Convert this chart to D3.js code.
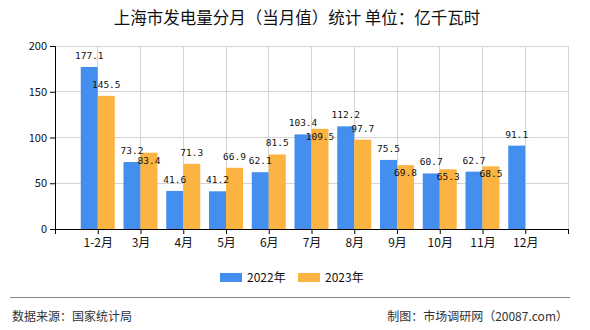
<!DOCTYPE html>
<html><head><meta charset="utf-8">
<script src="https://cdn.jsdelivr.net/npm/d3@7"></script>
<style>
body{margin:0;background:#fff;}
svg{display:block;}
</style></head>
<body>
<svg id="c" width="590" height="330"></svg>
<script>
(function(){
const categories = ["1-2月","3月","4月","5月","6月","7月","8月","9月","10月","11月","12月"];
const series2022 = [177.1,73.2,41.6,41.2,62.1,103.4,112.2,75.5,60.7,62.7,91.1];
const series2023 = [145.5,83.4,71.3,66.9,81.5,109.5,97.7,69.8,65.3,68.5,null];
const seriesNames = ["2022年","2023年"];
const yTicks = [0,50,100,150,200];
const title = "上海市发电量分月（当月值）统计 单位：亿千瓦时";
const sourceText = "数据来源：国家统计局";
const creditText = "制图：市场调研网（20087.com）";

const colors = ["#448ef0","#fbb441"];
const svg = d3.select("#c");
const mLeft = 55, mRight = 568, mTop = 46, mBottom = 229;
const font = "'Noto Sans CJK SC','Noto Sans',sans-serif";

const slots = ["__s", ...categories, "__e"];
const x = d3.scalePoint().domain(slots).range([mLeft, mRight]);
const y = d3.scaleLinear().domain([0,200]).range([mBottom, mTop]);
const barW = 17;

// title
svg.append("text").attr("x",297).attr("y",24).attr("text-anchor","middle")
  .attr("font-family",font).attr("font-size",16.5).attr("fill","#111").text(title);

// grid
const g = svg.append("g");
g.selectAll(".hg").data(yTicks.slice(1)).join("line")
  .attr("x1",mLeft).attr("x2",mRight).attr("y1",d=>y(d)).attr("y2",d=>y(d))
  .attr("stroke","#d4d4d4").attr("stroke-width",1).attr("shape-rendering","crispEdges");
g.selectAll(".vg").data(slots.slice(1)).join("line")
  .attr("x1",d=>x(d)).attr("x2",d=>x(d)).attr("y1",mTop).attr("y2",mBottom)
  .attr("stroke","#d4d4d4").attr("stroke-width",1).attr("shape-rendering","crispEdges");

// bars
const data = categories.map((c,i)=>({c, v:[series2022[i], series2023[i]]}));
[0,1].forEach(s=>{
  const vals = data.filter(d=>d.v[s]!=null);
  svg.append("g").selectAll("rect").data(vals).join("rect")
    .attr("x",d=> s===0 ? x(d.c)-barW : x(d.c))
    .attr("width",barW)
    .attr("y",d=>y(d.v[s]))
    .attr("height",d=>y(0)-y(d.v[s]))
    .attr("fill",colors[s]);
});

// axes
const yAxis = d3.axisLeft(y).tickValues(yTicks).tickSize(5).tickPadding(3);
const ya = svg.append("g").attr("transform",`translate(${mLeft},0)`).call(yAxis);
ya.selectAll("text").attr("font-family",font).attr("font-size",11).attr("fill","#111");
ya.selectAll("line,path").attr("stroke","#000");

const xAxis = d3.axisBottom(x).tickSize(5).tickSizeOuter(0).tickPadding(4)
  .tickFormat(d=> d.startsWith("__") ? "" : d);
const xa = svg.append("g").attr("transform",`translate(0,${mBottom})`).call(xAxis);
xa.selectAll("text").attr("font-family",font).attr("font-size",12).attr("fill","#111");
xa.selectAll("line,path").attr("stroke","#000");

// value labels with simple collision avoidance
const fs = 9.5, charW = fs*0.6, labH = 9;
const labels = [];
data.forEach(d=>{
  const t0 = d.v[0].toFixed(1);
  const b0 = {x: x(d.c)-barW/2, y: y(d.v[0])-8, t: t0};
  labels.push(b0);
  if (d.v[1]!=null){
    const t1 = d.v[1].toFixed(1);
    const b1 = {x: x(d.c)+barW/2, y: y(d.v[1])-8, t: t1};
    const w0 = t0.length*charW, w1 = t1.length*charW;
    const hOverlap = Math.abs(b0.x-b1.x) < (w0+w1)/2;
    const vOverlap = Math.abs(b0.y-b1.y) < labH+1;
    if (hOverlap && vOverlap) b1.y = y(d.v[1]) + 11;
    labels.push(b1);
  }
});
svg.append("g").selectAll("text").data(labels).join("text")
  .attr("x",d=>d.x).attr("y",d=>d.y)
  .attr("text-anchor","middle")
  .attr("font-family","'DejaVu Sans Mono',monospace").attr("font-size",fs)
  .attr("fill","#111").text(d=>d.t);

// legend
const lg = svg.append("g");
const legX = [220, 298];
seriesNames.forEach((n,i)=>{
  lg.append("rect").attr("x",legX[i]).attr("y",273).attr("width",22).attr("height",9).attr("fill",colors[i]);
  lg.append("text").attr("x",legX[i]+27).attr("y",282).attr("font-family",font)
    .attr("font-size",12).attr("fill","#111").text(n);
});

// footer
svg.append("line").attr("x1",10).attr("x2",570).attr("y1",297.5).attr("y2",297.5)
  .attr("stroke","#888").attr("stroke-width",1);
svg.append("text").attr("x",12).attr("y",321).attr("font-family",font)
  .attr("font-size",12).attr("fill","#333").text(sourceText);
svg.append("text").attr("x",568).attr("y",321).attr("text-anchor","end").attr("font-family",font)
  .attr("font-size",12).attr("fill","#333").text(creditText);
})();
</script>
</body></html>
